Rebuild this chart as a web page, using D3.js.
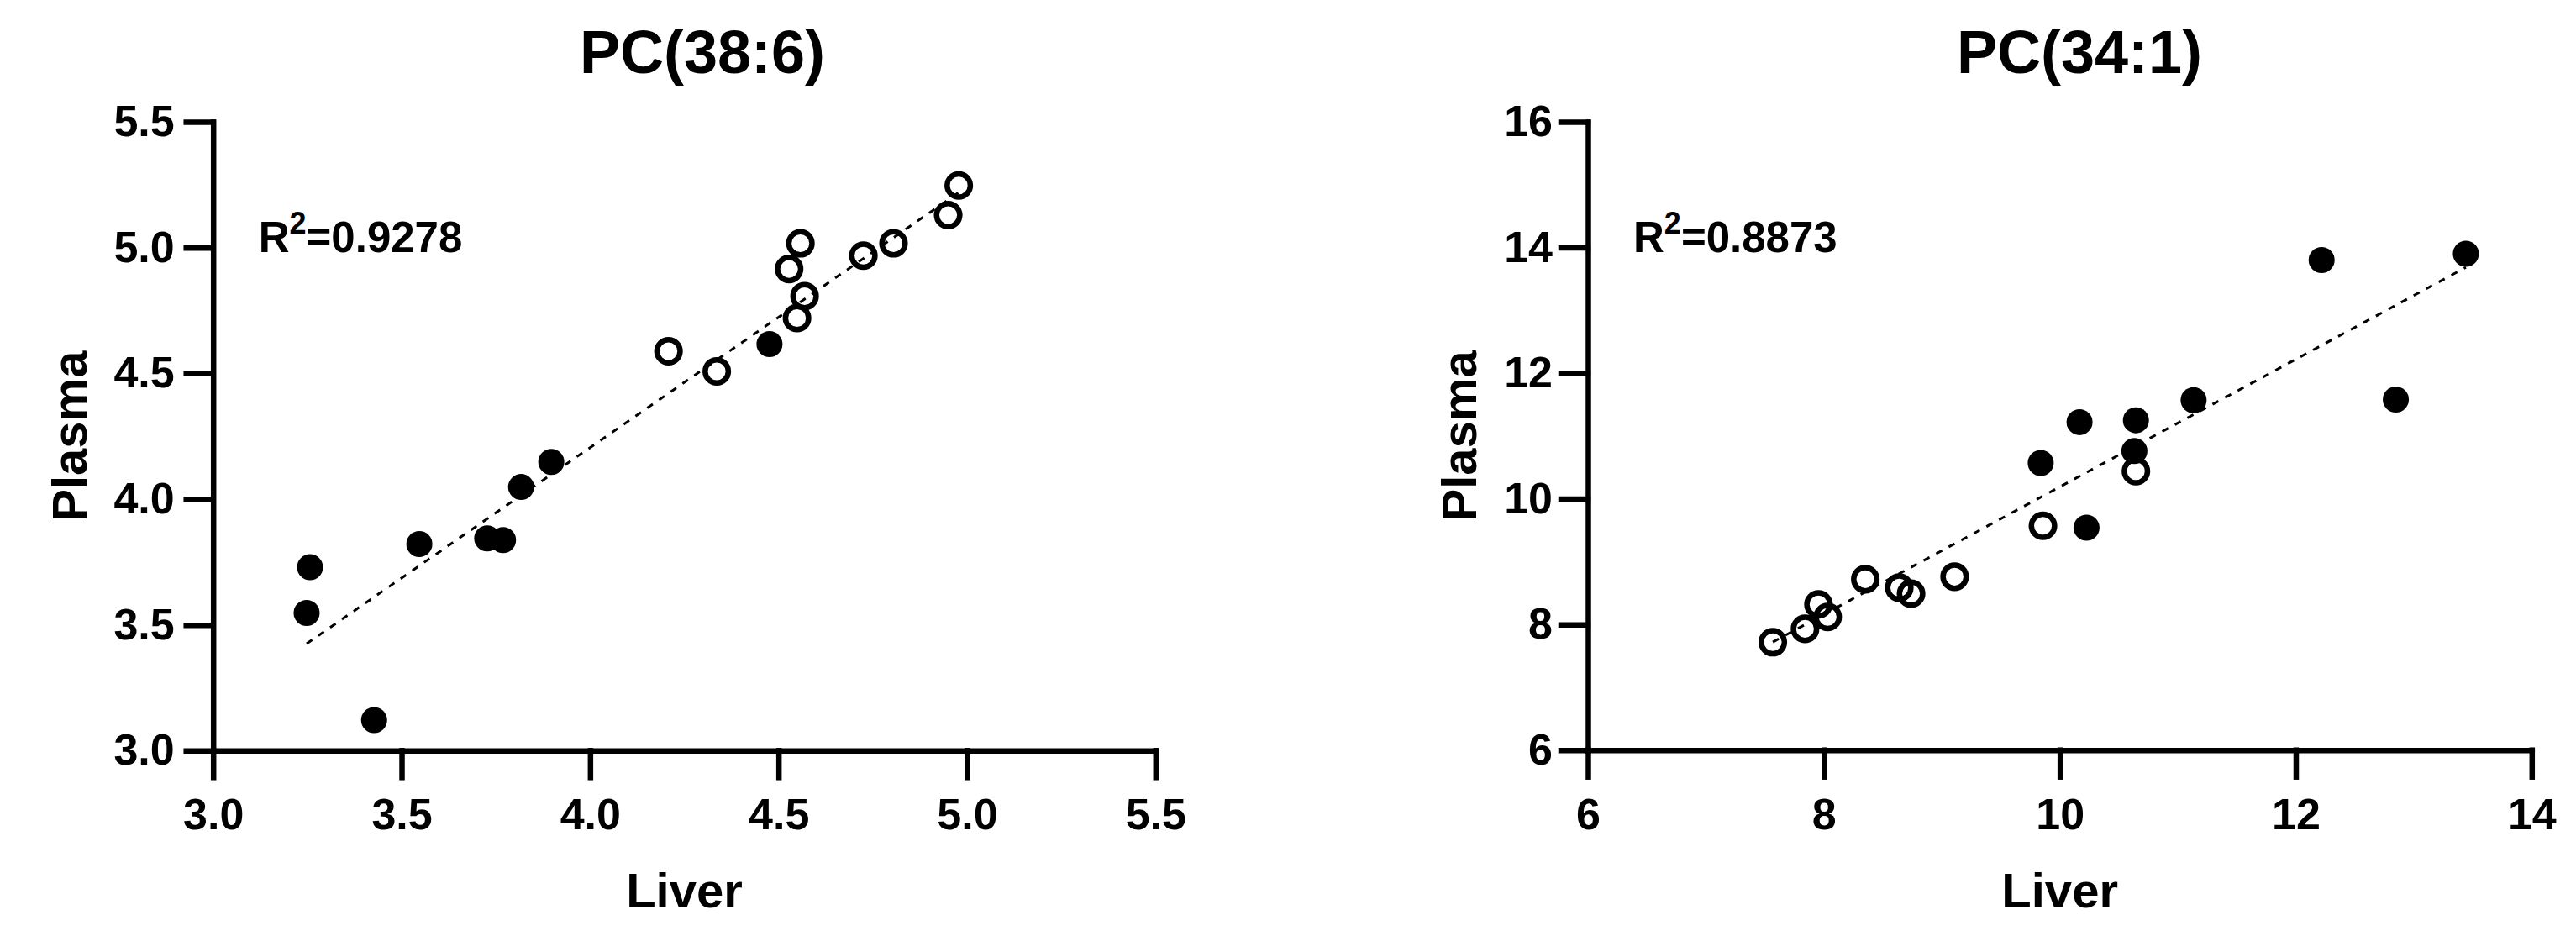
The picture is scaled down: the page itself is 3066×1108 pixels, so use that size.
<!DOCTYPE html>
<html>
<head>
<meta charset="utf-8">
<script src="https://cdn.jsdelivr.net/npm/d3@7"></script>
<style>
  html, body { margin: 0; padding: 0; background: #fff; }
  svg { display: block; }
  text { font-family: "Liberation Sans", Arial, sans-serif; font-weight: bold; fill: #000; }
</style>
</head>
<body>
<svg id="chart" width="3066" height="1108"></svg>
<script>
// ---------- DATA ----------
// Panel A: PC(38:6)
const titleA = "PC(38:6)";
const r2A = "0.9278";
const filledA_x = [3.257, 3.248, 3.427, 3.547, 3.727, 3.769, 3.817, 3.897, 4.476];
const filledA_y = [3.729, 3.547, 3.121, 3.821, 3.844, 3.837, 4.048, 4.148, 4.616];
const openA_x   = [4.208, 4.336, 4.549, 4.569, 4.528, 4.558, 4.725, 4.805, 4.950, 4.978];
const openA_y   = [4.588, 4.508, 4.720, 4.807, 4.915, 5.017, 4.968, 5.017, 5.129, 5.247];
const fitA_x = [3.248, 4.978];
const fitA_y = [3.425, 5.219];
const ticksA_x = [3.0, 3.5, 4.0, 4.5, 5.0, 5.5];
const ticksA_y = [3.0, 3.5, 4.0, 4.5, 5.0, 5.5];

// Panel B: PC(34:1)
const titleB = "PC(34:1)";
const r2B = "0.8873";
const filledB_x = [12.219, 13.442, 12.848, 11.134, 10.167, 10.645, 10.632, 9.838, 10.226];
const filledB_y = [13.80, 13.90, 11.58, 11.57, 11.22, 11.25, 10.76, 10.57, 9.54];
const openB_x   = [10.645, 9.857, 9.108, 8.351, 8.639, 8.739, 7.954, 8.032, 7.840, 7.567];
const openB_y   = [10.44, 9.57, 8.76, 8.72, 8.585, 8.49, 8.32, 8.12, 7.93, 7.717];
const fitB_x = [7.567, 13.442];
const fitB_y = [7.72, 13.684];
const ticksB_x = [6, 8, 10, 12, 14];
const ticksB_y = [6, 8, 10, 12, 14, 16];

const xLabel = "Liver";
const yLabel = "Plasma";

// ---------- DRAW ----------
const svg = d3.select("#chart");

function panel(cfg) {
  const x = d3.scaleLinear().domain(cfg.xDomain).range(cfg.xRange);
  const y = d3.scaleLinear().domain(cfg.yDomain).range(cfg.yRange);
  const g = svg.append("g");

  // axes
  const xAxis = d3.axisBottom(x).tickValues(cfg.xTicks).tickSizeInner(32).tickSizeOuter(0)
    .tickPadding(25).tickFormat(cfg.fmt);
  const yAxis = d3.axisLeft(y).tickValues(cfg.yTicks).tickSizeInner(32).tickSizeOuter(0)
    .tickPadding(cfg.yPad).tickFormat(cfg.fmt);

  const gx = g.append("g").attr("transform", `translate(0,${cfg.yRange[0]})`).call(xAxis);
  const gy = g.append("g").attr("transform", `translate(${cfg.xRange[0]},0)`).call(yAxis);
  [gx, gy].forEach(a => {
    a.select(".domain").attr("stroke", "#000").attr("stroke-width", 6.5).attr("stroke-linecap", "square");
    a.selectAll(".tick line").attr("stroke", "#000").attr("stroke-width", 6.5).attr("stroke-linecap", "square");
    a.selectAll(".tick text").attr("font-size", 52).attr("font-family", "Liberation Sans, Arial, sans-serif")
      .attr("font-weight", "bold").attr("fill", "#000");
  });

  // regression line
  g.append("line")
    .attr("x1", x(cfg.fitX[0])).attr("y1", y(cfg.fitY[0]))
    .attr("x2", x(cfg.fitX[1])).attr("y2", y(cfg.fitY[1]))
    .attr("stroke", "#000").attr("stroke-width", 3).attr("stroke-dasharray", "8,9");

  // points
  const filled = cfg.fX.map((v, i) => [v, cfg.fY[i]]);
  const open = cfg.oX.map((v, i) => [v, cfg.oY[i]]);
  g.selectAll(".f").data(filled).enter().append("circle")
    .attr("cx", d => x(d[0])).attr("cy", d => y(d[1])).attr("r", 15.5).attr("fill", "#000");
  g.selectAll(".o").data(open).enter().append("circle")
    .attr("cx", d => x(d[0])).attr("cy", d => y(d[1])).attr("r", 13.8)
    .attr("fill", "none").attr("stroke", "#000").attr("stroke-width", 6.5);

  // title
  g.append("text").attr("x", cfg.titleX).attr("y", 87).attr("text-anchor", "middle")
    .attr("font-size", 72).text(cfg.title);

  // R^2
  const t = g.append("text").attr("x", cfg.xRange[0] + 54).attr("y", 300).attr("font-size", 51);
  t.append("tspan").text("R");
  t.append("tspan").attr("font-size", 36).attr("dy", -22).text("2");
  t.append("tspan").attr("dy", 22).text("=" + cfg.r2);

  // axis titles
  g.append("text").attr("x", (cfg.xRange[0] + cfg.xRange[1]) / 2).attr("y", 1080)
    .attr("text-anchor", "middle").attr("font-size", 58).text(xLabel);
  const cy = (cfg.yRange[0] + cfg.yRange[1]) / 2;
  g.append("text").attr("transform", `translate(${cfg.yTitleX},${cy}) rotate(-90)`)
    .attr("text-anchor", "middle").attr("font-size", 58).text(yLabel);
}

panel({
  xDomain: [3.0, 5.5], yDomain: [3.0, 5.5],
  xRange: [253.7, 1375.3], yRange: [893.3, 145],
  xTicks: ticksA_x, yTicks: ticksA_y, fmt: d3.format(".1f"), yPad: 14,
  fX: filledA_x, fY: filledA_y, oX: openA_x, oY: openA_y,
  fitX: fitA_x, fitY: fitA_y,
  title: titleA, titleX: 836, r2: r2A, yTitleX: 103
});

panel({
  xDomain: [6, 14], yDomain: [6, 16],
  xRange: [1890, 3013.3], yRange: [892.7, 145],
  xTicks: ticksB_x, yTicks: ticksB_y, fmt: d3.format("d"), yPad: 10,
  fX: filledB_x, fY: filledB_y, oX: openB_x, oY: openB_y,
  fitX: fitB_x, fitY: fitB_y,
  title: titleB, titleX: 2475, r2: r2B, yTitleX: 1757
});
</script>
</body>
</html>
